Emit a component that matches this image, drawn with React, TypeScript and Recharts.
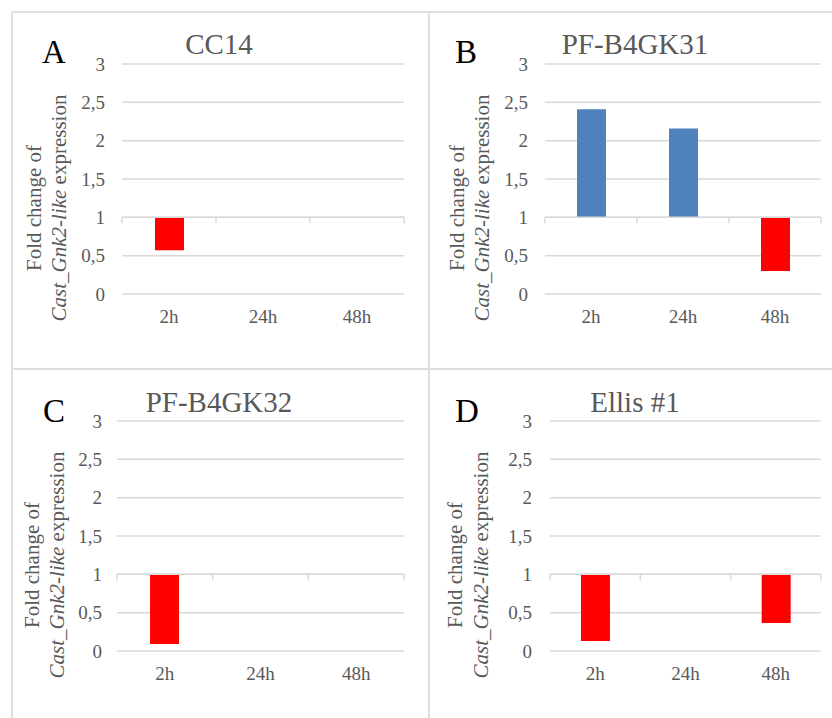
import React from 'react';
import { BarChart, Bar, XAxis, YAxis, CartesianGrid, ReferenceLine, Cell } from 'recharts';

// Sampling times (category axis)
const timePoints = ['2h', '24h', '48h'];

// Fold change of Cast_Gnk2-like expression per strain (1 = unchanged)
const cc14 = [0.57, 1, 1];
const pfB4gk31 = [2.41, 2.16, 0.3];
const pfB4gk32 = [0.09, 1, 1];
const ellis1 = [0.13, 1, 0.365];

// Value axis
const yTicks = [0, 0.5, 1, 1.5, 2, 2.5, 3];

const panelLetters = ['A', 'B', 'C', 'D'];
const panelTitles = ['CC14', 'PF-B4GK31', 'PF-B4GK32', 'Ellis #1'];
const panelSeries = [cc14, pfB4gk31, pfB4gk32, ellis1];

const UP = '#4F81BD';
const DOWN = '#FF0000';
const GRID = '#D9D9D9';
const TEXT = '#595959';
const FONT = 'Liberation Serif, Tinos, DejaVu Serif, serif';

const W = 832;
const H = 718;

// Layout of each panel: cell box, plot area, and text anchors (page pixels)
const layout = [
  {
    cell: { x: 12, y: 12, w: 417, h: 357 },
    plot: { l: 122, r: 404, t: 64, b: 294 },
    tickGap: 17,
    letter: { x: 42, y: 63 },
    title: { x: 219, y: 54 },
    label: { x1: 41, x2: 66, cy: 208 },
  },
  {
    cell: { x: 429, y: 12, w: 403, h: 357 },
    plot: { l: 545, r: 821, t: 64, b: 294 },
    tickGap: 17,
    letter: { x: 455, y: 63 },
    title: { x: 635, y: 54 },
    label: { x1: 464, x2: 489, cy: 208 },
  },
  {
    cell: { x: 12, y: 369, w: 417, h: 349 },
    plot: { l: 117, r: 404, t: 421, b: 651 },
    tickGap: 15,
    letter: { x: 43, y: 422 },
    title: { x: 219, y: 412 },
    label: { x1: 39, x2: 64, cy: 565 },
  },
  {
    cell: { x: 429, y: 369, w: 403, h: 349 },
    plot: { l: 550, r: 821, t: 421, b: 651 },
    tickGap: 18,
    letter: { x: 455, y: 422 },
    title: { x: 635, y: 412 },
    label: { x1: 462, x2: 488, cy: 565 },
  },
];

const Y_AXIS_W = 40;
const X_AXIS_H = 40;

const fmt = (v: number) => String(v).replace('.', ',');

// Horizontal axis line crossing at 1, with tick marks at category boundaries
const BaselineWithTicks = (props: any) => {
  const { x1, x2, y1 } = props;
  const n = timePoints.length;
  const step = (x2 - x1) / n;
  const marks = [];
  for (let i = 0; i <= n; i++) {
    const x = x1 + step * i;
    marks.push(<line key={i} x1={x} x2={x} y1={y1} y2={y1 + 6} stroke={GRID} strokeWidth={1.5} />);
  }
  return (
    <g>
      <line x1={x1} x2={x2} y1={y1} y2={y1} stroke={GRID} strokeWidth={1.5} />
      {marks}
    </g>
  );
};

function Panel({ idx }: { idx: number }) {
  const L = layout[idx];
  const values = panelSeries[idx];
  const data = timePoints.map((t, i) => {
    const v = values[i];
    return { t, value: v, range: v < 1 ? [v, 1] : [1, v] };
  });
  const { cell, plot } = L;
  const margin = {
    top: plot.t - cell.y,
    left: plot.l - cell.x - Y_AXIS_W,
    right: cell.x + cell.w - plot.r,
    bottom: cell.y + cell.h - plot.b - X_AXIS_H,
  };
  const tickStyle = { fontSize: 19, fill: TEXT, style: { fontFamily: FONT } };
  return (
    <div style={{ position: 'absolute', left: cell.x, top: cell.y, width: cell.w, height: cell.h }}>
      <BarChart width={cell.w} height={cell.h} data={data} margin={margin} barSize={29}>
        <CartesianGrid horizontal vertical={false} stroke={GRID} strokeWidth={1.5} />
        <XAxis
          dataKey="t"
          axisLine={false}
          tickLine={false}
          tickSize={0}
          tickMargin={16}
          height={X_AXIS_H}
          tick={tickStyle}
          interval={0}
        />
        <YAxis
          domain={[0, 3]}
          ticks={yTicks}
          width={Y_AXIS_W}
          axisLine={false}
          tickLine={false}
          tickSize={0}
          tickMargin={L.tickGap}
          tick={tickStyle}
          tickFormatter={fmt}
          allowDataOverflow
        />
        <ReferenceLine y={1} shape={BaselineWithTicks} />
        <Bar dataKey="range" isAnimationActive={false}>
          {data.map((d, i) => (
            <Cell key={i} fill={d.value >= 1 ? UP : DOWN} />
          ))}
        </Bar>
      </BarChart>
    </div>
  );
}

export default function App() {
  return (
    <div
      style={{
        position: 'absolute',
        left: 0,
        top: 0,
        width: W,
        height: H,
        background: '#fff',
        overflow: 'hidden',
        fontFamily: FONT,
      }}
    >
      {layout.map((_, i) => (
        <Panel key={i} idx={i} />
      ))}
      <svg
        width={W}
        height={H}
        style={{ position: 'absolute', left: 0, top: 0, pointerEvents: 'none', fontFamily: FONT }}
      >
        {/* panel frame */}
        <g stroke="#DEDEDE" strokeWidth={2}>
          <line x1={12} x2={W} y1={12} y2={12} />
          <line x1={12} x2={W} y1={369} y2={369} />
          <line x1={12} x2={12} y1={12} y2={H} />
          <line x1={429} x2={429} y1={12} y2={H} />
        </g>
        {layout.map((L, i) => (
          <g key={i} style={{ fontFamily: FONT }}>
            <text x={L.letter.x} y={L.letter.y} fontSize={33} fill="#000">
              {panelLetters[i]}
            </text>
            <text x={L.title.x} y={L.title.y} fontSize={29} fill={TEXT} textAnchor="middle">
              {panelTitles[i]}
            </text>
            <text
              x={L.label.x1}
              y={L.label.cy}
              fontSize={21}
              fill={TEXT}
              textAnchor="middle"
              transform={`rotate(-90 ${L.label.x1} ${L.label.cy})`}
            >
              Fold change of
            </text>
            <text
              x={L.label.x2}
              y={L.label.cy}
              fontSize={21}
              fill={TEXT}
              textAnchor="middle"
              transform={`rotate(-90 ${L.label.x2} ${L.label.cy})`}
            >
              <tspan fontStyle="italic">Cast_Gnk2-like</tspan> expression
            </text>
          </g>
        ))}
      </svg>
    </div>
  );
}
